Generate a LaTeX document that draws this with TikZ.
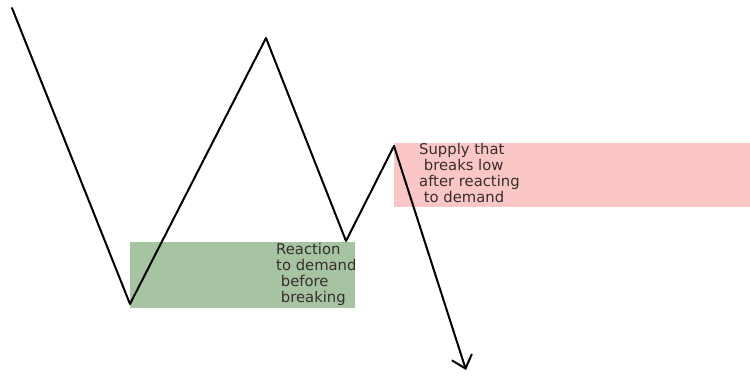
\documentclass[tikz,border=0pt]{standalone}
\usepackage{fontspec}
\setsansfont{DejaVu Sans}
\usetikzlibrary{arrows.meta}
\definecolor{demandgreen}{RGB}{166,196,162}
\definecolor{supplypink}{RGB}{250,198,198}
\definecolor{labelgrey}{RGB}{55,45,45}
\begin{document}
\begin{tikzpicture}[x=1pt, y=-1pt, line cap=round, line join=round,
		zonetext/.style={font=\sffamily\fontsize{14.8}{16}\selectfont, text=labelgrey, align=left, inner sep=0pt, anchor=north west}]
	% Canvas bounds
	\useasboundingbox (0,0) rectangle (750,379);
	
	% Zones
	\fill[demandgreen] (130,242) rectangle (355,308);
	\fill[supplypink] (394,143) rectangle (750,207);
	
	% Swing points of the price path
	\coordinate (top) at (12,8);
	\coordinate (low1) at (130,304);
	\coordinate (high) at (266,38);
	\coordinate (low2) at (346,241);
	\coordinate (peak) at (394,146);
	\coordinate (break) at (466,370);
	
	% Price path
	\draw[line width=2pt] (top) -- (low1) -- (high) -- (low2) -- (peak);
	\draw[line width=2pt, -{Straight Barb[length=12pt, width=21pt, line width=2pt]}] (peak) -- (break);
	
	% Zone labels
	\node[zonetext] (demandlbl) at (276,243) {Reaction\\to demand\\\ before\\\ breaking};
	\node[zonetext] (supplylbl) at (419,143) {Supply that\\\ breaks low\\after reacting\\\ to demand};
\end{tikzpicture}
\end{document}
